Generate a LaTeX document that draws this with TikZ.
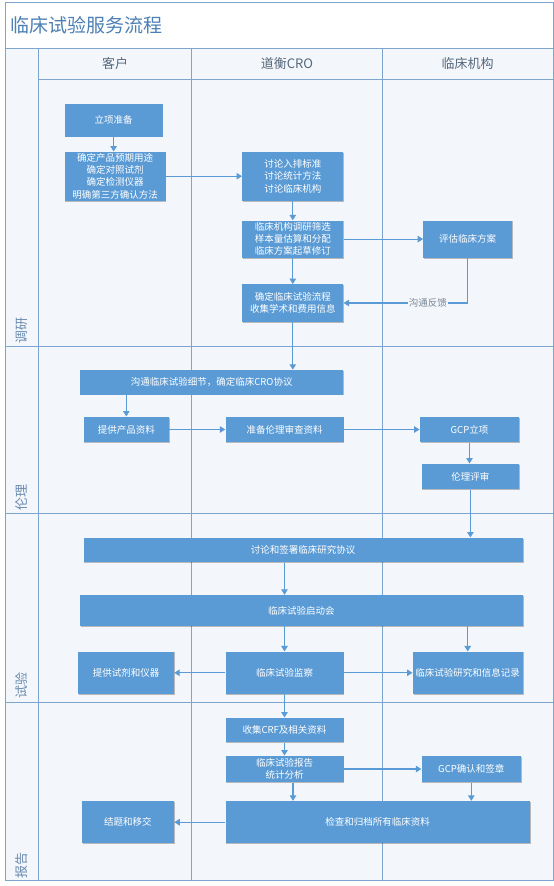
\documentclass[tikz,border=0pt]{standalone}
\usepackage{fontspec}
\setmainfont{Noto Sans CJK SC}
\usepackage{xcolor}
\usetikzlibrary{
	arrows.meta, % for the flow arrows
	shadows
	}

\definecolor{boxblue}{HTML}{5B9BD5}
\definecolor{lanecol}{HTML}{7DA5CD}
\definecolor{lanebg}{HTML}{F3F6FA}
\definecolor{titlecol}{HTML}{4C7FB5}
\definecolor{headcol}{HTML}{56687C}
\definecolor{bandcol}{HTML}{6A8BB0}

\begin{document}
\begin{tikzpicture}[x=1pt,y=-1pt,
                proc/.style={rectangle,fill=boxblue,text=white,align=center,inner sep=0pt,
                    font=\fontsize{9.5}{12.3}\selectfont,
                    drop shadow={shadow xshift=0.8pt,shadow yshift=-0.8pt,opacity=0.25,fill=black}},
                sz/.style 2 args={minimum width=#1pt,minimum height=#2pt},
                flow/.style={draw=boxblue,line width=1.1pt,-{Triangle[width=6.5pt,length=5.5pt]}},
                lane/.style={draw=lanecol,line width=0.9pt},
                head/.style={text=headcol,font=\fontsize{13}{15}\selectfont,inner sep=0pt},
                band/.style={text=bandcol,font=\fontsize{13}{15}\selectfont,inner sep=0pt,rotate=90},
            ]

                \def\xl{5}
                \def\xr{553}
                \def\xa{38.4}
                \def\xb{191.8}
                \def\xc{382.5}
                \def\yt{2}
                \def\yh{48.3}
                \def\yk{79.3}
                \def\yb{880}

                \useasboundingbox (0,0) rectangle (554,886);

                %% Swimlane frame
                \fill[white] (\xl,\yt) rectangle (\xr,\yh);
                \fill[lanebg] (\xl,\yh) rectangle (\xr,\yb);
                \draw[lane] (\xl,\yt) rectangle (\xr,\yb);
                \draw[lane] (\xl,\yh) -- (\xr,\yh);
                \draw[lane] (\xa,\yk) -- (\xr,\yk);
                \draw[lane] (\xa,\yh) -- (\xa,\yb);
                \draw[lane] (\xb,\yh) -- (\xb,\yb);
                \draw[lane] (\xc,\yh) -- (\xc,\yb);
                % phase separators
                \foreach \y in {346,513.3,702.3}
                    \draw[lane] (\xl,\y) -- (\xr,\y);

                % Title and lane headers
                \node[anchor=west,text=titlecol,inner sep=0pt,font=\fontsize{19}{22}\selectfont] (title) at (10.7,25) {临床试验服务流程};
                \node[head] (kehu) at (115,64) {客户};
                \node[head] (cro) at (287,64) {道衡CRO};
                \node[head] (jigou) at (467.7,64) {临床机构};

                % Phase labels
                \node[band] (p1) at (21.7,330) {调研};
                \node[band] (p2) at (21.7,497) {伦理};
                \node[band] (p3) at (21.7,685) {试验};
                \node[band] (p4) at (21.7,865) {报告};

                %% Phase 1
                \node[proc,sz={98}{32.7}] (lixiang) at (113.6,120.3) {立项准备};
                \node[proc,sz={101}{49}] (queding) at (115,176.2) {确定产品预期用途\\确定对照试剂\\确定检测仪器\\明确第三方确认方法};
                \node[proc,sz={101.2}{49}] (taolun) at (292.8,176.2) {讨论入排标准\\讨论统计方法\\讨论临床机构};
                \node[proc,sz={101.2}{37.2}] (diaoyan) at (292.8,239.1) {临床机构调研筛选\\样本量估算和分配\\临床方案起草修订};
                \node[proc,sz={88.7}{37.2}] (pinggu) at (467.7,239.1) {评估临床方案};
                \node[proc,sz={101.2}{37.4}] (liucheng) at (292.8,303) {确定临床试验流程\\收集学术和费用信息};

                \draw[flow] (lixiang.south) -- (lixiang.south |- queding.north);
                \draw[flow] (queding) -- (taolun);
                \draw[flow] (taolun) -- (diaoyan);
                \draw[flow] (diaoyan) -- (pinggu);
                \draw[flow] (diaoyan) -- (liucheng);
                \draw[flow] (pinggu) |- (liucheng)
                    node[pos=0.66,fill=lanebg,inner sep=1pt,text=headcol!80,font=\fontsize{9.5}{11}\selectfont] {沟通反馈};

                %% Phase 2
                \node[proc,sz={263.5}{24.7}] (goutong) at (211.7,382.3) {沟通临床试验细节，确定临床CRO协议};
                \node[proc,sz={85.5}{25.6}] (chanpin) at (126.3,429.5) {提供产品资料};
                \node[proc,sz={118}{25.6}] (shencha) at (284.5,429.5) {准备伦理审查资料};
                \node[proc,sz={99.5}{25.6}] (gcp) at (469.5,429.5) {GCP立项};
                \node[proc,sz={97.7}{25.6}] (pingshen) at (470.4,476.5) {伦理评审};

                \draw[flow] (liucheng) -- (liucheng |- goutong.north);
                \draw[flow] (chanpin |- goutong.south) -- (chanpin);
                \draw[flow] (chanpin) -- (shencha);
                \draw[flow] (shencha) -- (gcp);
                \draw[flow] (gcp.south) -- (gcp.south |- pingshen.north);

                %% Phase 3
                \node[proc,sz={439.2}{24.6}] (xieyi) at (303.1,550) {讨论和签署临床研究协议};
                \node[proc,sz={442.7}{31}] (qidong) at (301.4,610.5) {临床试验启动会};
                \node[proc,sz={96}{42.3}] (shiji) at (126,672.8) {提供试剂和仪器};
                \node[proc,sz={118}{42.3}] (jiancha) at (284.5,672.8) {临床试验监察};
                \node[proc,sz={110}{42.3}] (jilu) at (467.7,672.8) {临床试验研究和信息记录};

                \draw[flow] (pingshen) -- (pingshen |- xieyi.north);
                \draw[flow] (jiancha |- xieyi.south) -- (jiancha |- qidong.north);
                \draw[flow] (jiancha |- qidong.south) -- (jiancha);
                \draw[flow] (jilu |- qidong.south) -- (jilu);
                \draw[flow] (jiancha) -- (shiji);
                \draw[flow] (jiancha) -- (jilu);

                %% Phase 4
                \node[proc,sz={118}{24.6}] (crf) at (284.5,730) {收集CRF及相关资料};
                \node[proc,sz={118}{26.6}] (baogao) at (284.5,769) {临床试验报告\\统计分析};
                \node[proc,sz={99.5}{26.6}] (gcpqr) at (471.3,769) {GCP确认和签章};
                \node[proc,sz={304.3}{42.3}] (guidang) at (377.7,822.2) {检查和归档所有临床资料};
                \node[proc,sz={92.3}{42.3}] (jieti) at (127.9,822.2) {结题和移交};

                \coordinate (bg) at ([xshift=8.5pt]baogao.south);

                \draw[flow] (jiancha) -- (crf);
                \draw[flow] (crf) -- (baogao);
                \draw[flow] (baogao) -- (gcpqr);
                \draw[flow] (bg) -- (bg |- guidang.north);
                \draw[flow] (gcpqr) -- (gcpqr |- guidang.north);
                \draw[flow] (guidang) -- (jieti);

            \end{tikzpicture}
\end{document}
